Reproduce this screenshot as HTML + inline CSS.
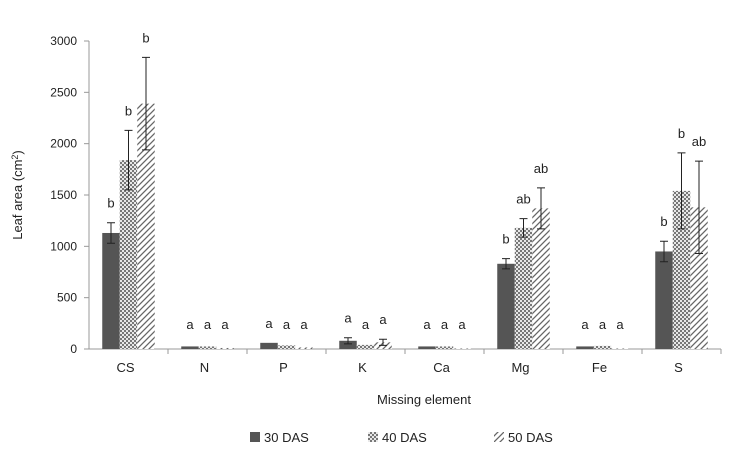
<!DOCTYPE html>
<html><head><meta charset="utf-8"><style>
body{margin:0;background:#fff;}
svg text{font-family:"Liberation Sans",Arial,sans-serif;fill:#222;}
</style></head><body>
<svg id="chart" width="733" height="454">
<defs>
<pattern id="p40" width="4" height="4" patternUnits="userSpaceOnUse">
<rect width="4" height="4" fill="#777"/>
<rect x="0" y="0" width="2" height="2" fill="#e8e8e8"/>
<rect x="2" y="2" width="2" height="2" fill="#e8e8e8"/>
</pattern>
<pattern id="p50" width="6" height="6" patternUnits="userSpaceOnUse">
<rect width="6" height="6" fill="#fff"/>
<path d="M0,6 L6,0 M-1,1 L1,-1 M5,7 L7,5" stroke="#666" stroke-width="1.3"/>
</pattern>
</defs>
<g id="axes"></g>
<g id="bars"></g>
</svg>
<script>
const categories=["CS","N","P","K","Ca","Mg","Fe","S"];
const s30=[1130,25,60,80,25,830,25,950];
const s40=[1840,25,35,40,25,1180,30,1540];
const s50=[2390,10,15,65,5,1370,5,1380];
const e30=[100,0,0,30,0,50,0,100];
const e40=[290,0,0,0,0,90,0,370];
const e50=[450,0,0,30,0,200,0,450];
const l30=["b","a","a","a","a","b","a","b"];
const l40=["b","a","a","a","a","ab","a","b"];
const l50=["b","a","a","a","a","ab","a","ab"];
const yTicks=[0,500,1000,1500,2000,2500,3000];
const seriesNames=["30 DAS","40 DAS","50 DAS"];

const NS="http://www.w3.org/2000/svg";
const x0=89,catW=79,y0=349,yTop=41,yMax=3000,bw=17.5;
const y=v=>y0-(v/yMax)*(y0-yTop);
const cx=i=>x0+catW*(i+0.5);
function mk(t,a,p){const e=document.createElementNS(NS,t);for(const k in a)e.setAttribute(k,a[k]);p.appendChild(e);return e;}
const ax=document.getElementById('axes'),bg=document.getElementById('bars');
let yl=mk('line',{x1:x0,y1:yTop,x2:x0,y2:y0,stroke:'#999'},ax);


let xl=mk('line',{x1:x0,y1:y0,x2:x0+catW*8,y2:y0,stroke:'#999'},ax);


yTicks.forEach(v=>{
 mk('line',{x1:x0-5,y1:y(v),x2:x0,y2:y(v),stroke:'#999'},ax);
 const t=mk('text',{x:x0-12,y:y(v)+4,'text-anchor':'end','font-size':12},ax);t.textContent=v;
 
 
});
categories.forEach((c,i)=>{
 mk('line',{x1:x0+catW*(i+1),y1:y0,x2:x0+catW*(i+1),y2:y0+5,stroke:'#999'},ax);
 const t=mk('text',{x:cx(i)-3,y:372,'text-anchor':'middle','font-size':13},ax);t.textContent=c;
 
 
});
let yt=mk('text',{x:22,y:195,'text-anchor':'middle','font-size':13,transform:'rotate(-90 22 195)'},ax);
yt.innerHTML='Leaf area (cm<tspan dy="-4" font-size="9">2</tspan><tspan dy="4">)</tspan>';


let xt=mk('text',{x:424,y:404,'text-anchor':'middle','font-size':13},ax);xt.textContent='Missing element';



const series=[[s30,e30,l30,'#555'],[s40,e40,l40,'url(#p40)'],[s50,e50,l50,'url(#p50)']];
series.forEach((s,k)=>{
 categories.forEach((c,i)=>{
  const v=s[0][i],e=s[1][i],bx=cx(i)-bw*1.5+k*bw;
  const r=mk('rect',{x:bx,y:y(v),width:bw,height:y0-y(v),fill:s[3]},bg);
  
  
  const mx=bx+bw/2;
  if(e>0){
   const g=mk('path',{d:`M${mx},${y(v+e)}V${y(v-e)}M${mx-4},${y(v+e)}h8M${mx-4},${y(v-e)}h8`,stroke:'#222','stroke-width':1,fill:'none'},bg);
   
   
  }
  const ly=Math.min(y(v+e)-15,329);
  const t=mk('text',{x:mx,y:ly,'text-anchor':'middle','font-size':13},bg);t.textContent=s[2][i];
  
  
 });
});
// legend
const lx=[250,368,494];
seriesNames.forEach((n,k)=>{
 const r=mk('rect',{x:lx[k],y:432,width:10,height:10,fill:series[k][3]},ax);
 
 
 const t=mk('text',{x:lx[k]+14,y:442,'font-size':13},ax);t.textContent=n;
 
 
});
</script>
</body></html>
